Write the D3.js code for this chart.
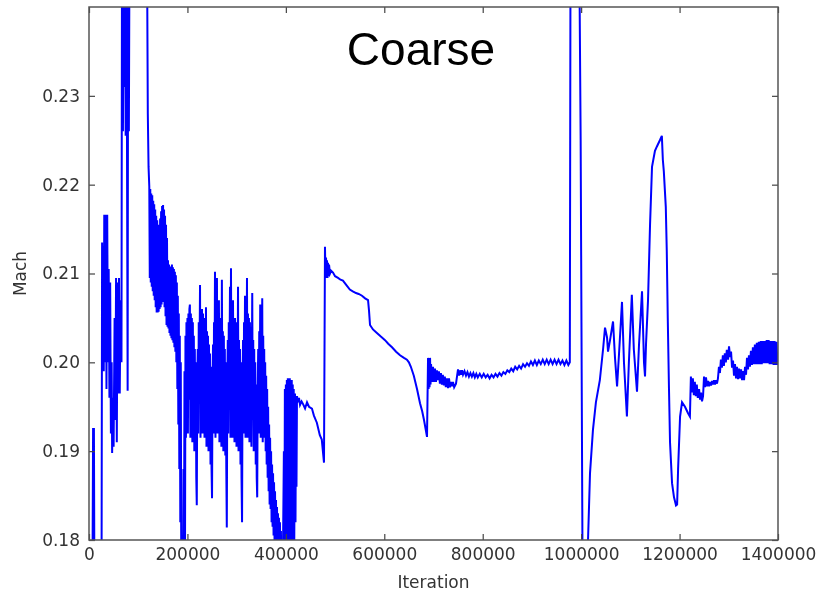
<!DOCTYPE html>
<html>
<head>
<meta charset="utf-8">
<script src="https://cdn.jsdelivr.net/npm/d3@7"></script>
<style>
  body { margin: 0; background: #fff; }
  svg { display: block; filter: blur(0.55px); }
  .tick text { font-family: "DejaVu Sans", sans-serif; font-size: 17px; fill: #333; }
  .tick line { stroke: #444; stroke-width: 1.2; }
  .aText { font-family: "DejaVu Sans", sans-serif; font-size: 17px; fill: #333; }
</style>
</head>
<body>
<div id="chart"></div>
<script>
var svgWidth = 821;
var svgHeight = 594;

var margin = { top: 7, right: 43, bottom: 54, left: 89 };
var width = svgWidth - margin.left - margin.right;
var height = svgHeight - margin.top - margin.bottom;

// iteration (thousands) vs Mach
var startup = [[0,0.172],[7,0.175],[8.3,0.1925],[10,0.1925],[11,0.175],[20,0.172],[25.5,0.175],[26.6,0.2135],[28,0.205],[29,0.213],[30,0.199],[31,0.2166],[32.5,0.2],[34,0.2166],[35.5,0.197],[37,0.2166],[38.5,0.2],[40,0.2105],[41.5,0.196],[43,0.209],[44.5,0.192],[46,0.2],[47,0.1898],[48.5,0.196],[50,0.1905],[52,0.205],[53.5,0.1935],[55,0.2095],[56.5,0.191],[58,0.209],[59.5,0.1965],[61,0.2095],[62.5,0.1965],[64,0.207],[66,0.2],[67,0.245],[69,0.226],[70,0.245],[71.5,0.231],[73,0.245],[74.5,0.2255],[76,0.245],[77,0.229],[78.5,0.1968],[79.5,0.245],[81,0.226],[82.5,0.25],[100,0.26],[117,0.25]];

var firstBand = [[118,0.245],[119.5,0.228],[121,0.222],[122.5,0.2198],[123.5,0.2095],[124.5,0.2195],[125.5,0.209],[126.5,0.219],[127.5,0.2085],[128.5,0.2188],[129.5,0.208],[130.5,0.2182],[131.5,0.2075],[132.5,0.2178],[133.5,0.207],[134.5,0.2172],[135.5,0.2062],[136.5,0.2165],[137.5,0.2056],[138.5,0.216],[139.5,0.2056],[140.5,0.2152],[141.5,0.2057],[142.5,0.2155],[143.5,0.206],[144.5,0.2162],[145.5,0.2062],[146.5,0.217],[147.5,0.2065],[148.5,0.2176],[149.5,0.2068],[150.5,0.2177],[151.5,0.2068],[152.5,0.2172],[153.5,0.2062],[154.5,0.2165],[155.5,0.2052],[156.5,0.2155],[157.5,0.2042],[158.5,0.214],[159.5,0.204],[160.5,0.2115],[161.5,0.2038],[162.5,0.211],[163.5,0.2033],[164.5,0.2105],[165.5,0.203],[166.5,0.2108],[167.5,0.2027],[168.5,0.211],[169.5,0.2025],[170.5,0.2107],[171.5,0.2022],[172.5,0.2105],[173.5,0.2017],[174.5,0.2102],[175.5,0.2012],[176.5,0.2098],[177.5,0.2],[178.5,0.209],[179.5,0.197],[180.5,0.2075],[181.5,0.193],[182.5,0.2055],[183.5,0.188],[184.5,0.203],[185.5,0.182],[186.5,0.2],[187.5,0.176]];

var midCycles = [[191,0.175],[192,0.188],[193,0.176],[194,0.199],[195,0.176],[196,0.203],[197,0.1915],[198,0.2045],[199,0.1955],[200,0.205],[201,0.192],[202,0.2055],[203,0.1958],[204,0.206],[205,0.2065],[206,0.1915],[207,0.2055],[208,0.195],[209,0.205],[210,0.191],[211,0.2045],[212,0.194],[213,0.203],[214,0.19],[215,0.2015],[216,0.1925],[217,0.2],[218,0.187],[219,0.1839],[220,0.198],[221,0.2015],[222,0.192],[223,0.2045],[224,0.196],[225.6,0.2087],[226.6,0.1915],[227.6,0.2055],[228.6,0.1962],[229.6,0.206],[230.6,0.192],[231.6,0.2055],[232.6,0.1955],[233.7,0.2045],[234.7,0.1915],[235.7,0.205],[236.7,0.1955],[237.7,0.2062],[238.7,0.1905],[239.8,0.2035],[240.8,0.1942],[241.8,0.203],[242.8,0.19],[243.8,0.202],[244.8,0.1925],[245.9,0.201],[246.9,0.1885],[248,0.1995],[249,0.188],[250,0.1847],[251,0.1975],[252,0.202],[253,0.192],[254,0.2045],[255,0.1962],[256,0.2102],[257,0.1915],[258,0.2055],[259,0.196],[260,0.2095],[261,0.192],[262,0.2055],[263,0.1955],[264,0.207],[265,0.191],[266,0.205],[267,0.1955],[268,0.2045],[269,0.1905],[270,0.2093],[271,0.1945],[272,0.2035],[273,0.19],[274,0.203],[275,0.1925],[276,0.2015],[277,0.1895],[278,0.2],[279,0.188],[280,0.1814],[281,0.1975],[282,0.2025],[283,0.192],[284,0.2045],[285,0.1962],[286.5,0.2085],[287.5,0.1915],[288.5,0.2106],[289.5,0.196],[290.5,0.2055],[291.5,0.1915],[292.6,0.207],[293.6,0.1955],[294.6,0.205],[295.6,0.191],[296.7,0.205],[297.7,0.195],[298.7,0.2045],[299.7,0.1905],[300.7,0.204],[301.7,0.1945],[302.8,0.2085],[303.8,0.19],[304.8,0.2025],[305.8,0.192],[306.8,0.2015],[307.8,0.1885],[308.9,0.2],[309.9,0.187],[311,0.182],[312,0.1975],[313,0.2025],[314,0.192],[315,0.2045],[316,0.1962],[317,0.2075],[318,0.1915],[319,0.205],[320,0.1958],[321,0.2095],[322,0.1915],[323,0.2055],[324,0.1952],[325,0.205],[326,0.191],[327,0.2045],[328,0.1945],[329,0.204],[330,0.1905],[331.7,0.2078],[332.7,0.1935],[333.7,0.2025],[334.7,0.19],[335.7,0.2015],[336.7,0.1905],[337.8,0.2],[338.8,0.1885],[339.8,0.1975],[340.8,0.187],[341.8,0.1848],[342.8,0.197],[343.8,0.2015],[344.8,0.192],[345.9,0.2035],[346.9,0.196],[347.9,0.2065],[348.9,0.1915],[349.9,0.2035],[350.9,0.1955],[352,0.2072],[353,0.191],[354,0.203],[355,0.1935],[356,0.2015],[357,0.1915],[358,0.2],[359,0.19],[360,0.1985],[361,0.1885],[362,0.197],[363,0.187],[364,0.195],[365,0.1855],[366,0.193],[367,0.184],[368,0.1915],[369,0.1835],[370,0.19],[371,0.182],[372,0.1885],[373,0.1815],[374,0.1875],[375,0.1805],[376,0.1865],[377,0.18],[378,0.1855],[379,0.179],[380,0.1845],[381,0.178],[382,0.1837],[383,0.177],[384,0.183],[385,0.176],[386,0.1825],[387,0.175],[388,0.182],[389,0.175],[390,0.181],[391,0.175],[392,0.18],[393,0.175],[394,0.178]];

var recovery = [[396,0.19],[397,0.177],[398,0.197],[399,0.176],[400,0.1975],[401,0.176],[402,0.198],[403,0.177],[404,0.1982],[405,0.176],[406,0.1982],[407,0.177],[408,0.1982],[409,0.178],[410,0.198],[411,0.177],[412,0.198],[413,0.178],[414,0.1975],[415,0.177],[416,0.197],[417,0.179],[418.6,0.1965],[419.6,0.182],[420.6,0.196],[421.6,0.186],[422.6,0.1962],[424.7,0.1955],[426.7,0.196],[428.8,0.1952],[432,0.1956],[435,0.1953],[439,0.1948],[443,0.1955],[447,0.195],[453,0.1948],[457,0.194],[463,0.1932],[469,0.1918],[473,0.1913],[477.5,0.1887]];

var plateau = [[479.5,0.213],[480.5,0.2095],[481.6,0.2118],[482.6,0.2098],[483.6,0.2115],[484.6,0.2095],[485.6,0.2112],[486.6,0.2097],[487.7,0.211],[489.7,0.21],[492,0.2103],[495.8,0.2101],[500,0.2097],[506,0.2095],[511,0.2093],[516,0.2092],[523,0.2087],[530,0.2082],[536,0.208],[542.5,0.2078],[548,0.2077],[554.7,0.2075],[561,0.2072],[567,0.207],[569,0.2058],[571,0.2042],[577,0.2037],[585,0.2033],[593,0.2029],[601.5,0.2025],[608,0.2021],[615.7,0.2017],[624,0.2012],[632,0.2008],[640,0.2005],[646,0.2003],[650,0.2],[654,0.1995],[660,0.1985],[666.5,0.197],[672.6,0.1954],[677,0.1945],[680.7,0.1935],[684,0.1925],[686.8,0.1916],[688.9,0.2005],[690,0.197],[691,0.2003],[692,0.1972],[693,0.2005],[694,0.1975],[695,0.1998],[697,0.1978],[699,0.1995],[701,0.1978],[703,0.1993],[705,0.1978],[707,0.1991],[709,0.198],[711,0.199],[713,0.1976],[715,0.1988],[717,0.1975],[719,0.1986],[721,0.1974],[723,0.1984],[725,0.1972],[727.5,0.1982],[729.5,0.1971],[731.5,0.1982],[733.5,0.1972],[735.6,0.1978],[737.6,0.1973],[739.6,0.1978],[742,0.1972],[745.7,0.1976],[748,0.1985],[749.8,0.1992],[752,0.1985],[754,0.1991],[756,0.1986],[758,0.1991],[760,0.1986],[763,0.199],[766,0.1985],[769,0.1989],[772,0.1984],[775,0.1988],[778,0.1984],[781,0.1988],[784,0.1983],[787,0.1987],[790,0.1983],[794,0.1987],[798,0.1983],[802,0.1987],[806,0.1983],[810,0.1986],[814,0.1982],[818,0.1986],[822,0.1983],[826,0.1987],[830,0.1984],[834,0.1988],[838,0.1985],[842,0.1989],[846,0.1987],[850,0.1991],[854,0.1989],[858,0.1993],[862,0.199],[866,0.1995],[870,0.1992],[874,0.1996],[878,0.1993],[882,0.1998],[886,0.1995],[890,0.1999],[894,0.1996],[898,0.2001],[902,0.1997],[906,0.2002],[910,0.1997],[914,0.2002],[918,0.1998],[922,0.2003],[926,0.1998],[930,0.2003],[934,0.1998],[938,0.2003],[942,0.1998],[946,0.2003],[950,0.1998],[954,0.2003],[958,0.1998],[962,0.2002],[966,0.1997],[970,0.2002],[974,0.1997],[977,0.2]];

var restart = [[978.5,0.25],[985,0.265],[995.7,0.25],[999,0.225],[1003,0.175],[1006,0.165],[1010,0.175],[1014,0.18],[1018,0.1875],[1024,0.1924],[1030,0.1955],[1038,0.198],[1044.6,0.2015],[1048.5,0.2039],[1052.6,0.2028],[1054.6,0.2012],[1058.7,0.2025],[1064.8,0.2046],[1068.8,0.2005],[1073,0.1973],[1077,0.201],[1083,0.2068],[1087,0.2],[1093,0.1939],[1097,0.2],[1103,0.2076],[1107,0.2015],[1113.5,0.1967],[1117.6,0.202],[1123.7,0.208],[1127.7,0.2],[1129.8,0.1984],[1131.8,0.202],[1135.9,0.207],[1140,0.2155],[1144,0.222],[1150,0.2238],[1154,0.2243],[1160,0.225],[1164,0.2255],[1166,0.2228],[1168,0.2215],[1172,0.2175],[1174,0.2125],[1176,0.205],[1178.5,0.197],[1180.6,0.191],[1184.7,0.1864],[1188.7,0.1848],[1192.8,0.1839],[1195,0.184],[1197,0.188],[1201,0.1939],[1205,0.1955],[1211,0.195],[1217,0.1943],[1221,0.1939]];

var tail = [[1223,0.1984],[1225,0.1966],[1227,0.1982],[1229,0.1963],[1231,0.1978],[1233,0.1962],[1235,0.1975],[1237,0.196],[1239.6,0.197],[1241.6,0.1958],[1243.6,0.1966],[1245.6,0.1956],[1247.7,0.1962],[1249.7,0.1984],[1251.7,0.1972],[1253.7,0.1983],[1255.8,0.1973],[1258,0.1979],[1260,0.1973],[1262,0.1978],[1264,0.1974],[1266,0.1979],[1268,0.1975],[1270,0.198],[1272,0.1975],[1274,0.198],[1276,0.1976],[1278,0.1982],[1280,0.1995],[1282,0.1988],[1284,0.2003],[1286,0.1994],[1288,0.2008],[1290,0.1996],[1292,0.201],[1294,0.2],[1296,0.2014],[1298.5,0.2003],[1300.5,0.2018],[1302.6,0.2006],[1304.6,0.2012],[1306.6,0.1994],[1308.6,0.2002],[1310.6,0.1985],[1312.6,0.1998],[1314.7,0.1982],[1316.7,0.1995],[1318.8,0.1981],[1320.8,0.1993],[1323,0.1982],[1325,0.1992],[1327,0.198],[1329,0.199],[1331,0.198],[1333,0.1995],[1335,0.1986],[1337,0.2005],[1339,0.1992],[1341,0.2008],[1343,0.1995],[1345,0.2013],[1347,0.1997],[1349,0.2017],[1351,0.1998],[1353,0.202],[1355,0.1998],[1357,0.2022],[1359,0.1998],[1361,0.2023],[1363,0.1998],[1365,0.2024],[1367,0.1998],[1369,0.2024],[1371,0.1999],[1373,0.2024],[1375,0.1999],[1377,0.2025],[1379,0.1999],[1381,0.2025],[1383,0.1998],[1385,0.2024],[1387,0.1998],[1389,0.2024],[1391,0.1997],[1393,0.2024],[1395,0.1997],[1397,0.2023],[1399,0.1997],[1400,0.201]];

var xTicks = [0, 200000, 400000, 600000, 800000, 1000000, 1200000, 1400000];
var yTicks = [0.18, 0.19, 0.20, 0.21, 0.22, 0.23];

var series = startup.concat(firstBand, midCycles, recovery, plateau, restart, tail);

var svg = d3.select("#chart")
  .append("svg")
  .attr("width", svgWidth)
  .attr("height", svgHeight);

var chartGroup = svg.append("g")
  .attr("transform", `translate(${margin.left}, ${margin.top})`);

var xScale = d3.scaleLinear().domain([0, 1400000]).range([0, width]);
var yScale = d3.scaleLinear().domain([0.18, 0.24]).range([height, 0]);

// clip the line to the plot box
chartGroup.append("clipPath")
  .attr("id", "plot-clip")
  .append("rect")
  .attr("width", width)
  .attr("height", height);

var line = d3.line()
  .x(d => xScale(d[0] * 1000))
  .y(d => yScale(d[1]));

chartGroup.append("path")
  .datum(series)
  .attr("clip-path", "url(#plot-clip)")
  .attr("fill", "none")
  .attr("stroke", "#0000ff")
  .attr("stroke-width", 2)
  .attr("d", line);

// axes with inward ticks, matplotlib classic look
var bottomAxis = d3.axisBottom(xScale).tickValues(xTicks).tickFormat(d3.format("d"))
  .tickSizeInner(-6).tickSizeOuter(0).tickPadding(8);
var leftAxis = d3.axisLeft(yScale).tickValues(yTicks).tickFormat(d3.format(".2f"))
  .tickSizeInner(-6).tickSizeOuter(0).tickPadding(9);
var topAxis = d3.axisTop(xScale).tickValues(xTicks).tickFormat("")
  .tickSizeInner(-6).tickSizeOuter(0);
var rightAxis = d3.axisRight(yScale).tickValues(yTicks).tickFormat("")
  .tickSizeInner(-6).tickSizeOuter(0);

chartGroup.append("g").attr("transform", `translate(0, ${height})`).call(bottomAxis);
chartGroup.append("g").call(leftAxis);
chartGroup.append("g").call(topAxis);
chartGroup.append("g").attr("transform", `translate(${width}, 0)`).call(rightAxis);
chartGroup.selectAll(".domain").remove();

chartGroup.append("rect")
  .attr("width", width)
  .attr("height", height)
  .attr("fill", "none")
  .attr("stroke", "#555")
  .attr("stroke-width", 1.5);

// title inside the plot
chartGroup.append("text")
  .attr("x", 332)
  .attr("y", 58)
  .attr("text-anchor", "middle")
  .attr("font-family", "'Liberation Sans', Arial, sans-serif")
  .attr("font-size", 46)
  .attr("fill", "#000")
  .text("Coarse");

// axis labels
chartGroup.append("text")
  .attr("class", "aText")
  .attr("x", width / 2)
  .attr("y", height + 48)
  .attr("text-anchor", "middle")
  .text("Iteration");

chartGroup.append("text")
  .attr("class", "aText")
  .attr("transform", "rotate(-90)")
  .attr("x", -height / 2)
  .attr("y", -63)
  .attr("text-anchor", "middle")
  .text("Mach");
</script>
</body>
</html>
